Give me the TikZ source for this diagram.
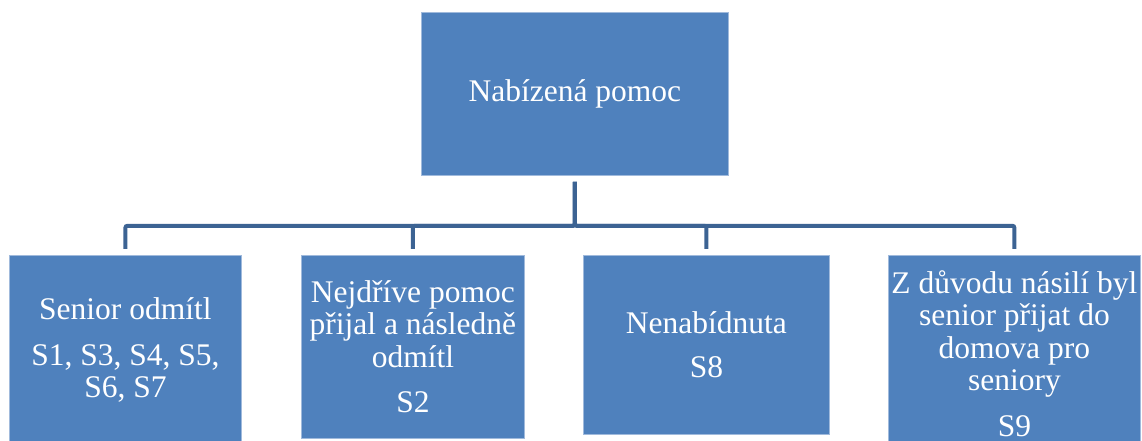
\documentclass[tikz,border=0pt]{standalone}
\usepackage{fontspec}
\setmainfont{Liberation Serif}
\newfontfamily\boxfont{Liberation Serif}
\definecolor{boxfill}{RGB}{79,129,189}
\definecolor{boxedge}{RGB}{160,186,220}
\definecolor{linkcol}{RGB}{60,99,147}
\begin{document}
\begin{tikzpicture}[x=1bp,y=-1bp,
  box/.style={rectangle, fill=boxfill, draw=boxedge, line width=0.8bp, text=white,
    font=\boxfont\fontsize{31.5bp}{32.5bp}\selectfont, align=center, inner sep=0pt, anchor=north west},
  link/.style={draw=linkcol, line width=4bp, rounded corners=2bp,
    shorten <=6bp, shorten >=6bp}]
\useasboundingbox (0,0) rectangle (1142,441);

% root of the hierarchy
\node[box, minimum width=307bp, minimum height=163bp] (top) at (421,12) {Nabízená pomoc};

% the four outcomes
\node[box, minimum width=232bp, minimum height=190bp] (b1) at (9,255)
  {Senior odmítl\\[13bp]S1, S3, S4, S5,\\S6, S7};
\node[box, minimum width=223bp, minimum height=183bp] (b2) at (301,255)
  {Nejdříve pomoc\\přijal a následně\\odmítl\\[13bp]S2};
\node[box, minimum width=246bp, minimum height=179bp] (b3) at (583,255)
  {Nenabídnuta\\[12bp]S8};
\node[box, minimum width=252bp, minimum height=196bp] (b4) at (888,255)
  {Z důvodu násilí byl\\senior přijat do\\domova pro\\seniory\\[13bp]S9};

% elbow connectors from the root to each outcome
\foreach \n in {b1,b2,b3,b4}
  \draw[link] (top.south) -- ++(0,50) -| (\n.north);
\end{tikzpicture}
\end{document}
